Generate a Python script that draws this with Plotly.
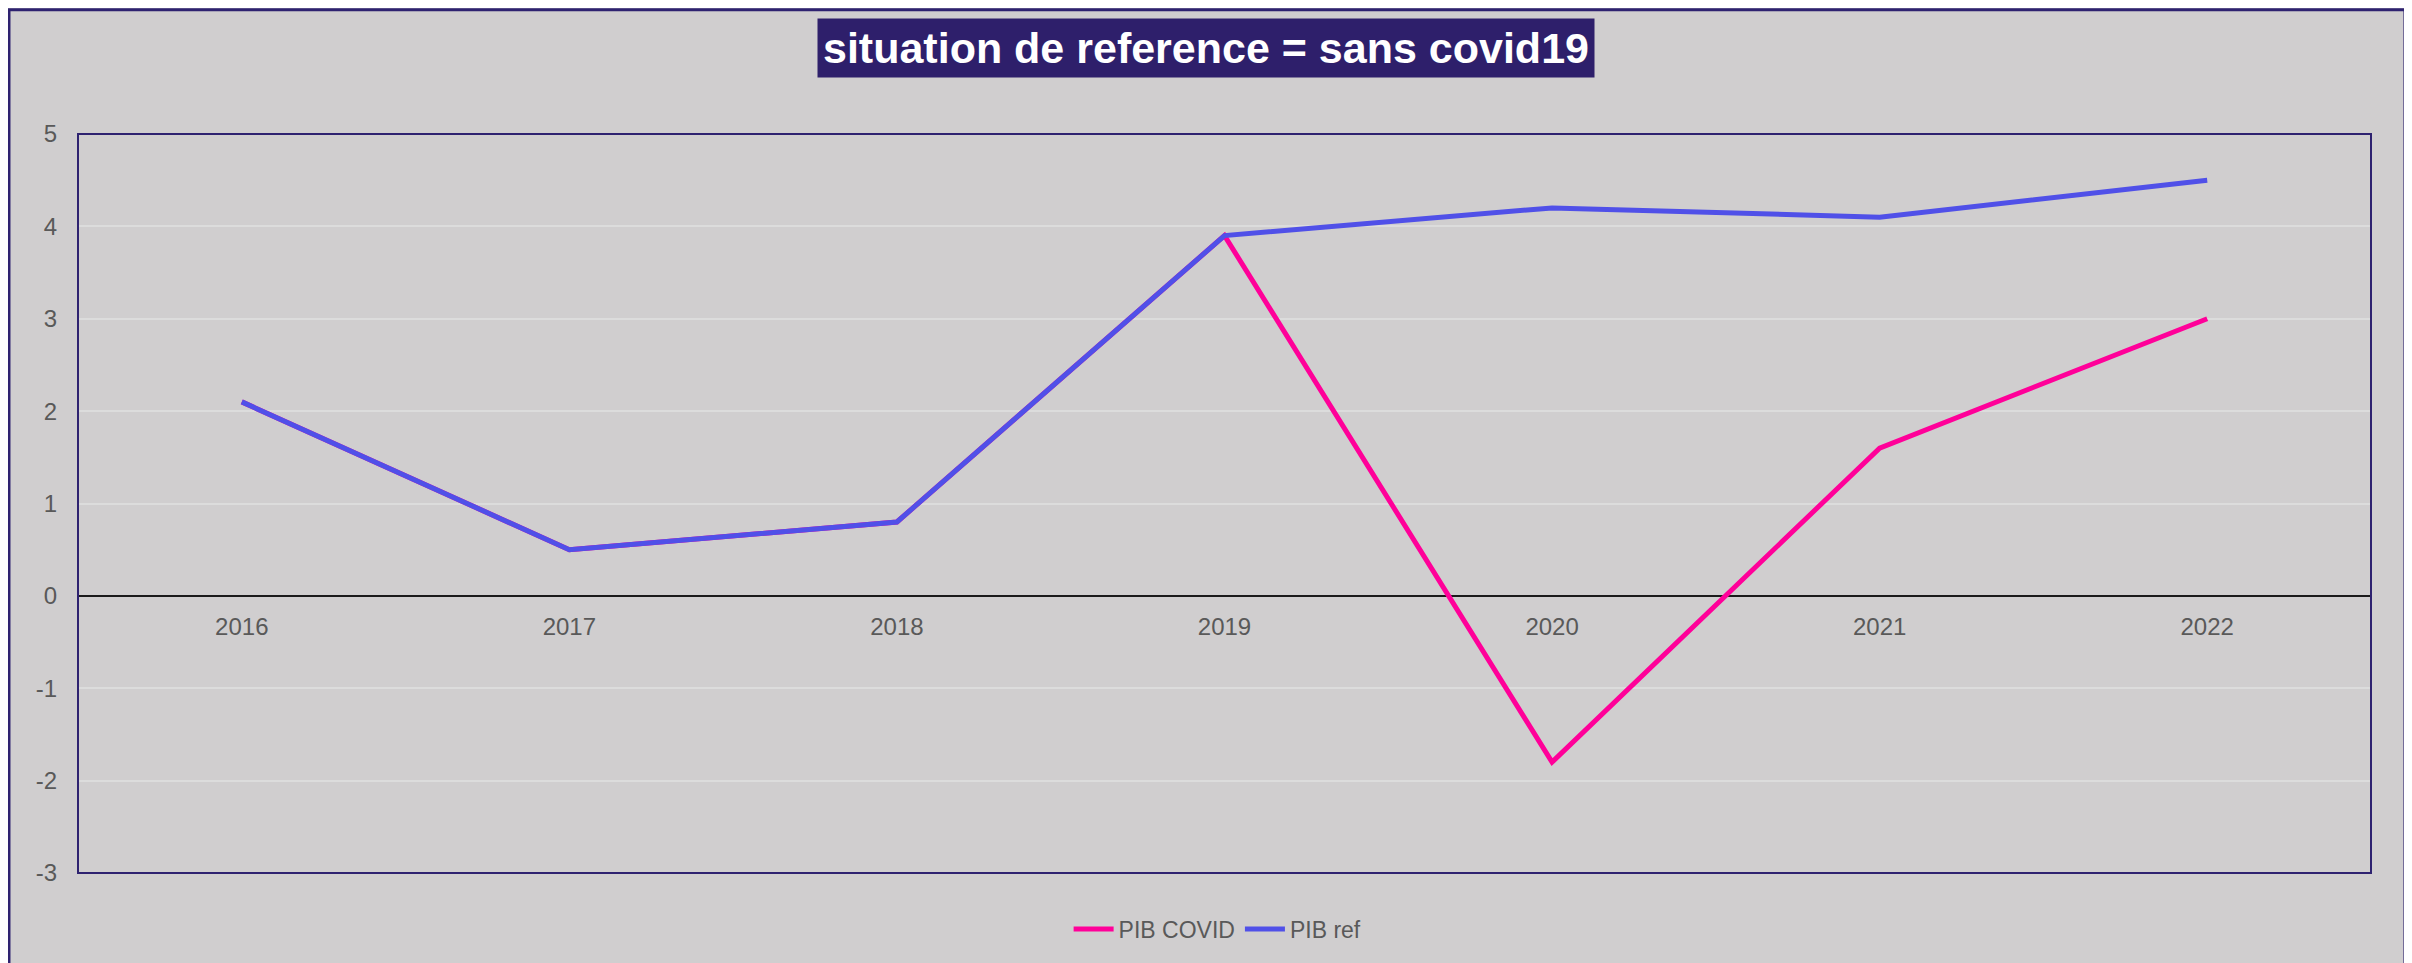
import plotly.graph_objects as go

years = ["2016", "2017", "2018", "2019", "2020", "2021", "2022"]
pib_covid = [2.1, 0.5, 0.8, 3.9, -1.8, 1.6, 3.0]
pib_ref = [2.1, 0.5, 0.8, 3.9, 4.2, 4.1, 4.5]
y_ticks = [-3, -2, -1, 0, 1, 2, 3, 4, 5]

bg = "#d0cecf"
navy = "#2e2270"
tick_col = "#595959"

fig = go.Figure()
fig.add_trace(go.Scatter(x=years, y=pib_covid, mode="lines", name="PIB COVID",
                         line=dict(color="#ff0099", width=5)))
fig.add_trace(go.Scatter(x=years, y=pib_ref, mode="lines", name="PIB ref",
                         line=dict(color="#5050e8", width=5)))

# page body adds an 8px offset, margins compensate for it
fig.update_layout(
    width=2412, height=963,
    paper_bgcolor=bg, plot_bgcolor=bg,
    margin=dict(l=70, r=49, t=126, b=98, autoexpand=False),
    font=dict(family="Liberation Sans, Arial", size=24, color=tick_col),
    showlegend=True,
    legend=dict(orientation="h", x=0.497, xanchor="center", y=-0.076, yanchor="middle",
                font=dict(size=23, color=tick_col), bgcolor="rgba(0,0,0,0)",
                itemwidth=40),
    annotations=[dict(
        text="<b>situation de reference = sans covid19</b>",
        xref="paper", yref="paper", x=0.492, y=1.117, xanchor="center", yanchor="middle",
        showarrow=False, bgcolor="#2e1f6b", borderpad=5,
        font=dict(family="Liberation Sans, Arial", size=43, color="white"))],
    shapes=[
        dict(type="rect", xref="paper", yref="paper", x0=0, x1=1, y0=0, y1=1,
             line=dict(color=navy, width=2), layer="above"),
        dict(type="rect", xref="paper", yref="paper", x0=-0.0301, x1=1.0148, y0=-0.2, y1=1.168,
             line=dict(color=navy, width=3)),
    ],
)

fig.update_xaxes(type="category", range=[-0.5, 6.5], anchor="free", position=0.375,
                 showgrid=False, showline=False, ticks="", ticklabelstandoff=14,
                 tickfont=dict(size=24, color=tick_col), fixedrange=True, automargin=False)
fig.update_yaxes(range=[-3, 5], tickvals=y_ticks, ticktext=[str(v) for v in y_ticks],
                 showgrid=True, gridcolor="#dcdcdc", gridwidth=1.5,
                 zeroline=True, zerolinecolor="#1a1a1a", zerolinewidth=1.5,
                 showline=False, ticks="", ticklabelstandoff=20,
                 tickfont=dict(size=24, color=tick_col), fixedrange=True, automargin=False)

fig.write_html("out.html")
